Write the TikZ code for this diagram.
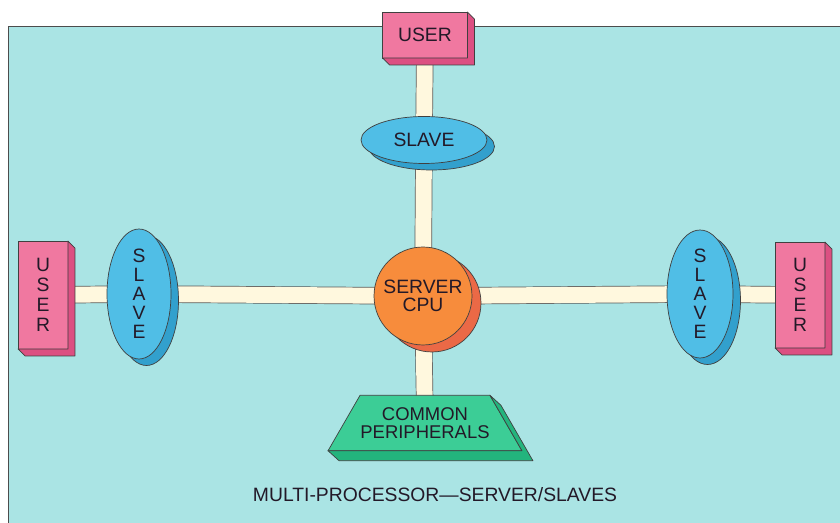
\documentclass[tikz,border=0pt]{standalone}
\usepackage{fontspec}
\setmainfont{Liberation Sans}
\usetikzlibrary{shapes.geometric, shadows, calc}

\definecolor{bgcyan}{RGB}{170,228,228}
\definecolor{userpink}{RGB}{240,120,160}
\definecolor{userdark}{RGB}{220,80,130}
\definecolor{slaveblue}{RGB}{80,190,230}
\definecolor{slavedark}{RGB}{50,160,205}
\definecolor{cpuorange}{RGB}{247,140,60}
\definecolor{cpudark}{RGB}{235,105,70}
\definecolor{perigreen}{RGB}{60,205,150}
\definecolor{peridark}{RGB}{35,180,125}
\definecolor{barcream}{RGB}{255,248,222}
\definecolor{inkdark}{RGB}{35,25,40}

\pgfdeclarelayer{frame}
\pgfdeclarelayer{links}
\pgfsetlayers{frame,links,main}

\begin{document}
\begin{tikzpicture}[
    x=0.02cm, y=-0.02cm,
    every node/.style={align=center, inner sep=0pt, outer sep=0pt},
    user/.style={rectangle, draw=black!75, fill=userpink, text=inkdark, font=\fontsize{11}{11.4}\selectfont},
    slave/.style={ellipse, draw=black!75, fill=slaveblue, text=inkdark, font=\fontsize{11}{10.8}\selectfont, copy shadow={shadow xshift=0.15cm, shadow yshift=-0.13cm, fill=slavedark, draw=black!75}},
    cpu/.style={circle, minimum size=1.96cm, draw=black!75, fill=cpuorange, text=inkdark, font=\fontsize{11}{10.5}\selectfont, copy shadow={shadow xshift=0.18cm, shadow yshift=-0.14cm, fill=cpudark, draw=black!75}},
    periph/.style={trapezium, trapezium angle=60, inner xsep=-0.75cm, inner ysep=-0.08cm, minimum width=3.88cm, minimum height=1.1cm, draw=black!75, fill=perigreen, text=inkdark, font=\fontsize{10.5}{10.3}\selectfont},
    depth/.style={draw=black!75, line join=round},
    link/.style={draw=black!65, line width=0.4pt, double=barcream, double distance=0.32cm},
    caption/.style={text=inkdark, font=\fontsize{11}{13}\selectfont}
]
\useasboundingbox (0,0) rectangle (840,523);

% Frame
\begin{pgfonlayer}{frame}
\fill[bgcyan] (8,26) rectangle (845,530);
\draw[black!70] (845,26) -- (8,26) -- (8,530);
\end{pgfonlayer}

% Users
\node[user, minimum width=1.7cm, minimum height=0.92cm] (tuser) at (425,35) {USER};
\node[user, minimum width=1.0cm, minimum height=2.16cm] (luser) at (43,295) {U\\S\\E\\R};
\node[user, minimum width=1.0cm, minimum height=2.12cm] (ruser) at (800,295) {U\\S\\E\\R};
\foreach \n in {tuser, luser, ruser}
    \filldraw[depth, fill=userdark] (\n.north east) -- ++(7,7) -- ($(\n.south east)+(7,7)$) -- ($(\n.south west)+(7,7)$) -- (\n.south west) -- (\n.south east) -- cycle;

% Slaves
\node[slave, minimum width=2.52cm, minimum height=0.94cm] (tslave) at (424,140) {SLAVE};
\node[slave, minimum width=1.28cm, minimum height=2.6cm] (lslave) at (139,294) {S\\L\\A\\V\\E};
\node[slave, minimum width=1.32cm, minimum height=2.56cm] (rslave) at (700,294) {S\\L\\A\\V\\E};

% Server
\node[cpu] (cpu) at (423,296) {SERVER\\CPU};

% Common peripherals
\node[periph] (periph) at (425,423) {COMMON\\PERIPHERALS};
\filldraw[depth, fill=peridark] (periph.top right corner) -- ++(11,10) -- ($(periph.bottom right corner)+(11,10)$) -- ($(periph.bottom left corner)+(11,10)$) -- (periph.bottom left corner) -- (periph.bottom right corner) -- cycle;

% Links
\begin{pgfonlayer}{links}
\draw[link] (tuser.center) -- (tslave.center);
\draw[link] (tslave.center) -- (cpu.center);
\draw[link] (cpu.center) -- (periph.center);
\draw[link] (luser.center) -- (lslave.center);
\draw[link] (lslave.center) -- (cpu.center);
\draw[link] (cpu.center) -- (rslave.center);
\draw[link] (rslave.center) -- (ruser.center);
\end{pgfonlayer}

% Caption
\node[caption] (title) at (435,495) {MULTI-PROCESSOR---SERVER/SLAVES};

\end{tikzpicture}
\end{document}
